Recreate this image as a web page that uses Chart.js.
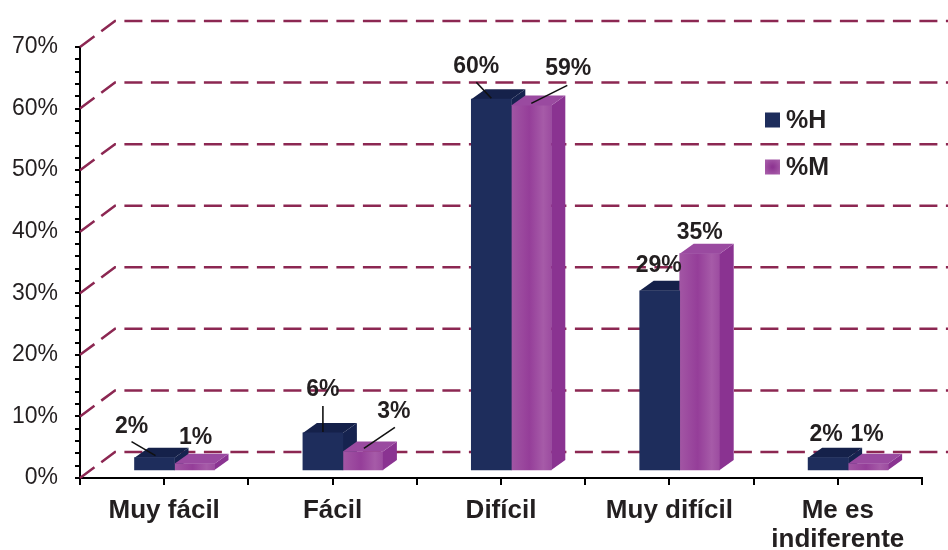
<!DOCTYPE html>
<html>
<head>
<meta charset="utf-8">
<script src="https://cdn.jsdelivr.net/npm/chart.js@4.4.1/dist/chart.umd.min.js"></script>
<style>
html,body{margin:0;padding:0;background:#ffffff;}
#wrap{width:948px;height:550px;position:relative;}
</style>
</head>
<body>
<div id="wrap"><canvas id="c" width="948" height="550"></canvas></div>
<script>
// ---------- data ----------
const categories = ['Muy fácil', 'Fácil', 'Difícil', 'Muy difícil', ['Me es', 'indiferente']];
const seriesNames = ['%H', '%M'];
const valuesH = [2, 6, 60, 29, 2];
const valuesM = [1, 3, 59, 35, 1];
const yTickValues = [0, 10, 20, 30, 40, 50, 60, 70];

// ---------- style ----------
const FONT = "'Liberation Sans', Arial, sans-serif";
const TEXT = '#231F20';
const GRID = '#8C2752';
const WALL_DX = 35, WALL_DY = 26;   // back wall offset
const BAR_DX = 14, BAR_DY = 10;     // bar depth
const colH = { front: '#1E2D5C', top: '#15214A', side: '#16234F' };
const colM = { front: '#A054A0', top: '#9A4AA0', side: '#8A3391' };

// label placement relative to bar front-top centre
const labelOffsets = [
  [[-23, -31], [0, -43], [-15, -33], [-1, -25], [-2, -23]],
  [[1, -26], [31, -40], [37, -37], [0, -21], [-1, -29]]
];
const leaderLines = {
  '0-0': [[-23, -16], [1, -2]],
  '0-1': [[0, -27], [0, -1]],
  '0-2': [[-15, -17], [0, -1]],
  '1-1': [[32, -24], [1, -3]],
  '1-2': [[36, -20], [0, -2]]
};

function mGradient(context) {
  const chart = context.chart;
  const xb = chart.scales.xb;
  if (!xb || !chart.chartArea || context.dataIndex === undefined) return colM.front;
  const cx = xb.getPixelForValue(context.dataIndex);
  const g = chart.ctx.createLinearGradient(cx, 0, cx + 40, 0);
  g.addColorStop(0, '#A256A4');
  g.addColorStop(0.45, '#953E99');
  g.addColorStop(0.8, '#A65BA8');
  g.addColorStop(1, '#9C4CA0');
  return g;
}

function drawDepth(chart, dsIndex, col) {
  const ctx = chart.ctx;
  const meta = chart.getDatasetMeta(dsIndex);
  meta.data.forEach(bar => {
    const p = bar.getProps(['x', 'y', 'base', 'width'], true);
    const l = p.x - p.width / 2, r = p.x + p.width / 2, t = p.y, b = p.base;
    ctx.save();
    ctx.fillStyle = col.side;
    ctx.beginPath();
    ctx.moveTo(r, t); ctx.lineTo(r + BAR_DX, t - BAR_DY);
    ctx.lineTo(r + BAR_DX, b - BAR_DY); ctx.lineTo(r, b); ctx.closePath(); ctx.fill();
    ctx.fillStyle = col.top;
    ctx.beginPath();
    ctx.moveTo(l, t); ctx.lineTo(l + BAR_DX, t - BAR_DY);
    ctx.lineTo(r + BAR_DX, t - BAR_DY); ctx.lineTo(r, t); ctx.closePath(); ctx.fill();
    ctx.restore();
  });
}

const threeD = {
  id: 'threeD',
  beforeDatasetsDraw(chart) {
    const ctx = chart.ctx, y = chart.scales.y, x = chart.scales.x, ca = chart.chartArea;
    ctx.save();
    ctx.strokeStyle = GRID; ctx.lineWidth = 2.5; ctx.setLineDash([18, 8.5]);
    yTickValues.forEach(v => {
      const yf = y.getPixelForValue(v);
      ctx.beginPath();
      ctx.moveTo(ca.left, yf);
      ctx.lineTo(ca.left + WALL_DX, yf - WALL_DY);
      ctx.lineTo(chart.width, yf - WALL_DY);
      ctx.stroke();
    });
    ctx.restore();
    ctx.save();
    ctx.strokeStyle = '#000'; ctx.lineWidth = 2;
    categories.forEach((c, i) => {
      const px = Math.round(x.getPixelForValue(i));
      ctx.beginPath(); ctx.moveTo(px, ca.bottom); ctx.lineTo(px, ca.bottom + 7); ctx.stroke();
    });
    ctx.restore();
    drawDepth(chart, 0, colH);
  },
  afterDatasetsDraw(chart) {
    const ctx = chart.ctx;
    drawDepth(chart, 1, colM);
    ctx.save();
    ctx.font = 'bold 23px ' + FONT;
    ctx.fillStyle = TEXT; ctx.textAlign = 'center'; ctx.textBaseline = 'middle';
    ctx.strokeStyle = '#111'; ctx.lineWidth = 1.6;
    [valuesH, valuesM].forEach((vals, s) => {
      const meta = chart.getDatasetMeta(s);
      meta.data.forEach((bar, i) => {
        const p = bar.getProps(['x', 'y'], true);
        const ln = leaderLines[s + '-' + i];
        if (ln) {
          ctx.beginPath();
          ctx.moveTo(p.x + ln[0][0], p.y + ln[0][1]);
          ctx.lineTo(p.x + ln[1][0], p.y + ln[1][1]);
          ctx.stroke();
        }
        const o = labelOffsets[s][i];
        ctx.fillText(vals[i] + '%', p.x + o[0], p.y + o[1]);
      });
    });
    ctx.restore();
  },
  afterDraw(chart) {
    const ctx = chart.ctx;
    ctx.save();
    const items = [{ name: seriesNames[0], color: colH.front, y: 120 }, { name: seriesNames[1], color: colM.front, y: 167 }];
    items.forEach((it, k) => {
      if (k === 1) {
        const g = ctx.createRadialGradient(772.5, it.y, 1, 772.5, it.y, 9);
        g.addColorStop(0, '#8E3592'); g.addColorStop(1, '#A65BA8');
        ctx.fillStyle = g;
      } else ctx.fillStyle = it.color;
      ctx.fillRect(765, it.y - 7.5, 15, 15);
      ctx.fillStyle = TEXT;
      ctx.font = 'bold 25px ' + FONT;
      ctx.textAlign = 'left'; ctx.textBaseline = 'middle';
      ctx.fillText(it.name, 786, it.y + 1);
    });
    ctx.restore();
  }
};

Chart.defaults.font.family = FONT;
Chart.defaults.color = TEXT;

new Chart(document.getElementById('c'), {
  type: 'bar',
  data: {
    datasets: [
      {
        label: seriesNames[0],
        data: valuesH.map((v, i) => ({ x: i, y: v })),
        backgroundColor: colH.front,
        xAxisID: 'xb', yAxisID: 'yb',
        barThickness: 40
      },
      {
        label: seriesNames[1],
        data: valuesM.map((v, i) => ({ x: i, y: v })),
        backgroundColor: mGradient,
        xAxisID: 'xb', yAxisID: 'yb',
        barThickness: 40
      }
    ]
  },
  options: {
    responsive: false,
    animation: false,
    devicePixelRatio: 1,
    layout: { padding: { left: 0, top: 47, right: 26, bottom: 0 } },
    plugins: { legend: { display: false }, tooltip: { enabled: false } },
    scales: {
      x: {
        type: 'category',
        labels: categories,
        offset: true,
        position: 'bottom',
        afterFit: a => { a.height = 72; },
        grid: { offset: true, drawOnChartArea: false, drawTicks: true, tickLength: 7, color: '#000', lineWidth: 2 },
        border: { display: true, color: '#000', width: 2 },
        ticks: { font: { size: 26, weight: 'bold', lineHeight: 1.1 }, color: TEXT, padding: 12, maxRotation: 0, autoSkip: false }
      },
      y: {
        type: 'linear',
        position: 'left',
        min: 0, max: 70,
        afterFit: a => { a.width = 80; },
        grid: { drawOnChartArea: false, drawTicks: true, tickLength: 5, color: '#000', lineWidth: 2 },
        border: { display: true, color: '#000', width: 2 },
        ticks: {
          stepSize: 2, autoSkip: false, maxTicksLimit: 100,
          font: { size: 23 }, color: TEXT, padding: 17,
          callback: v => (v % 10 === 0 ? v + '%' : '')
        }
      },
      xb: {
        type: 'linear', display: false, position: 'bottom',
        offset: false, grid: { offset: false },
        min: -0.5612, max: 4.4388
      },
      yb: {
        type: 'linear', display: false, position: 'left',
        min: -1.2945, max: 68.446
      }
    }
  },
  plugins: [threeD]
});
</script>
</body>
</html>
